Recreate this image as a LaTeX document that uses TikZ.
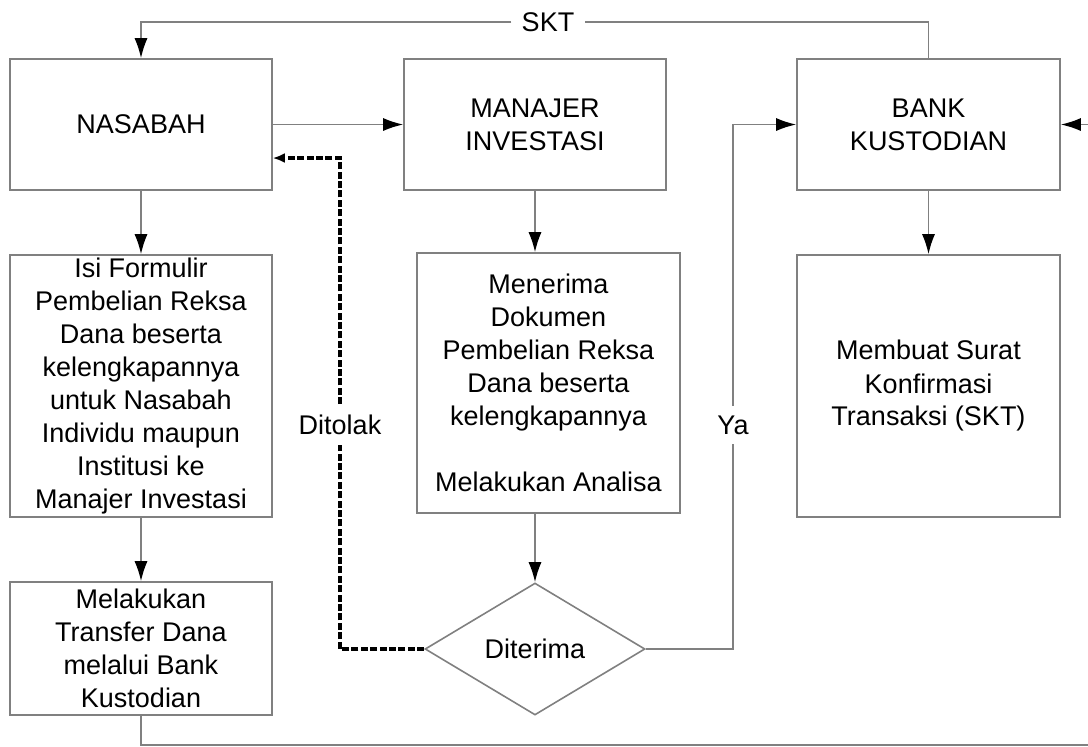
\documentclass[tikz,border=0pt]{standalone}
\usepackage{fontspec}
\setmainfont{Liberation Sans}
\usetikzlibrary{arrows.meta,shapes.geometric}
\begin{document}
\begin{tikzpicture}[x=0.5pt,y=-0.5pt,
  kotak/.style={draw=gray,line width=0.8pt,align=center,inner sep=0pt,
    font=\fontsize{13.5}{16.5}\selectfont},
  garis/.style={draw=gray,line width=0.8pt},
  panah/.style={garis,-{Latex[length=10pt,width=6.5pt,color=black]}},
  tolak/.style={draw=black,line width=1.8pt,dash pattern=on 3.5pt off 1.2pt,
    -{Latex[length=6pt,width=5pt]}},
  label/.style={fill=white,inner sep=5pt,font=\fontsize{13.5}{16.5}\selectfont}]
\useasboundingbox (0,0) rectangle (1088,746);
\clip (0,0) rectangle (1088,746);
% baris atas
\node[kotak,minimum width=131pt,minimum height=65.5pt] (nasabah) at (141,124.5) {NASABAH};
\node[kotak,minimum width=131pt,minimum height=65.5pt] (manajer) at (535,124.5) {MANAJER\\INVESTASI};
\node[kotak,minimum width=131.5pt,minimum height=65.5pt] (bank) at (928.5,124.5) {BANK\\KUSTODIAN};
% baris tengah
\node[kotak,minimum width=131pt,minimum height=131pt] (isi) at (141,386) {Isi Formulir\\Pembelian Reksa\\Dana beserta\\kelengkapannya\\untuk Nasabah\\Individu maupun\\Institusi ke\\Manajer Investasi};
\node[kotak,minimum width=131.5pt,minimum height=130pt] (menerima) at (548.5,383) {Menerima\\Dokumen\\Pembelian Reksa\\Dana beserta\\kelengkapannya\\[16.5pt]Melakukan Analisa};
\node[kotak,minimum width=131.5pt,minimum height=131pt] (membuat) at (928.5,386) {Membuat Surat\\Konfirmasi\\Transaksi (SKT)};
% baris bawah
\node[kotak,minimum width=131pt,minimum height=66.5pt] (transfer) at (141,648.5) {Melakukan\\Transfer Dana\\melalui Bank\\Kustodian};
\node[kotak,diamond,aspect=1.67,minimum width=110pt,minimum height=66pt] (diterima) at (535,649) {Diterima};
% panah
\draw[panah](nasabah.east)--(manajer.west);
\draw[panah](nasabah.south)--(isi.north);
\draw[panah](isi.south)--(transfer.north);
\draw[panah](manajer.south)--(manajer.south|-menerima.north);
\draw[panah](menerima.south-|diterima.north)--(diterima.north);
\draw[panah](bank.south)--(membuat.north);
% SKT
\node[label] (skt) at (548,22) {SKT};
\draw[garis](bank.north)|-(skt.east);
\draw[panah](skt.west)-|(nasabah.north);
% Ya
\coordinate (ya) at (733,649);
\draw[panah](diterima.east)--(ya)|-(bank.west);
\node[label] (lya) at (733,425) {Ya};
% Ditolak
\coordinate (tk) at (340,158);
\draw[tolak](diterima.west)-|(tk)--(tk-|nasabah.east);
\node[label] (ltk) at (340,425) {Ditolak};
% transfer ke bank kustodian
\draw[panah](transfer.south)--++(0,29)--++(1000,0)|-(bank.east);
\end{tikzpicture}
\end{document}
